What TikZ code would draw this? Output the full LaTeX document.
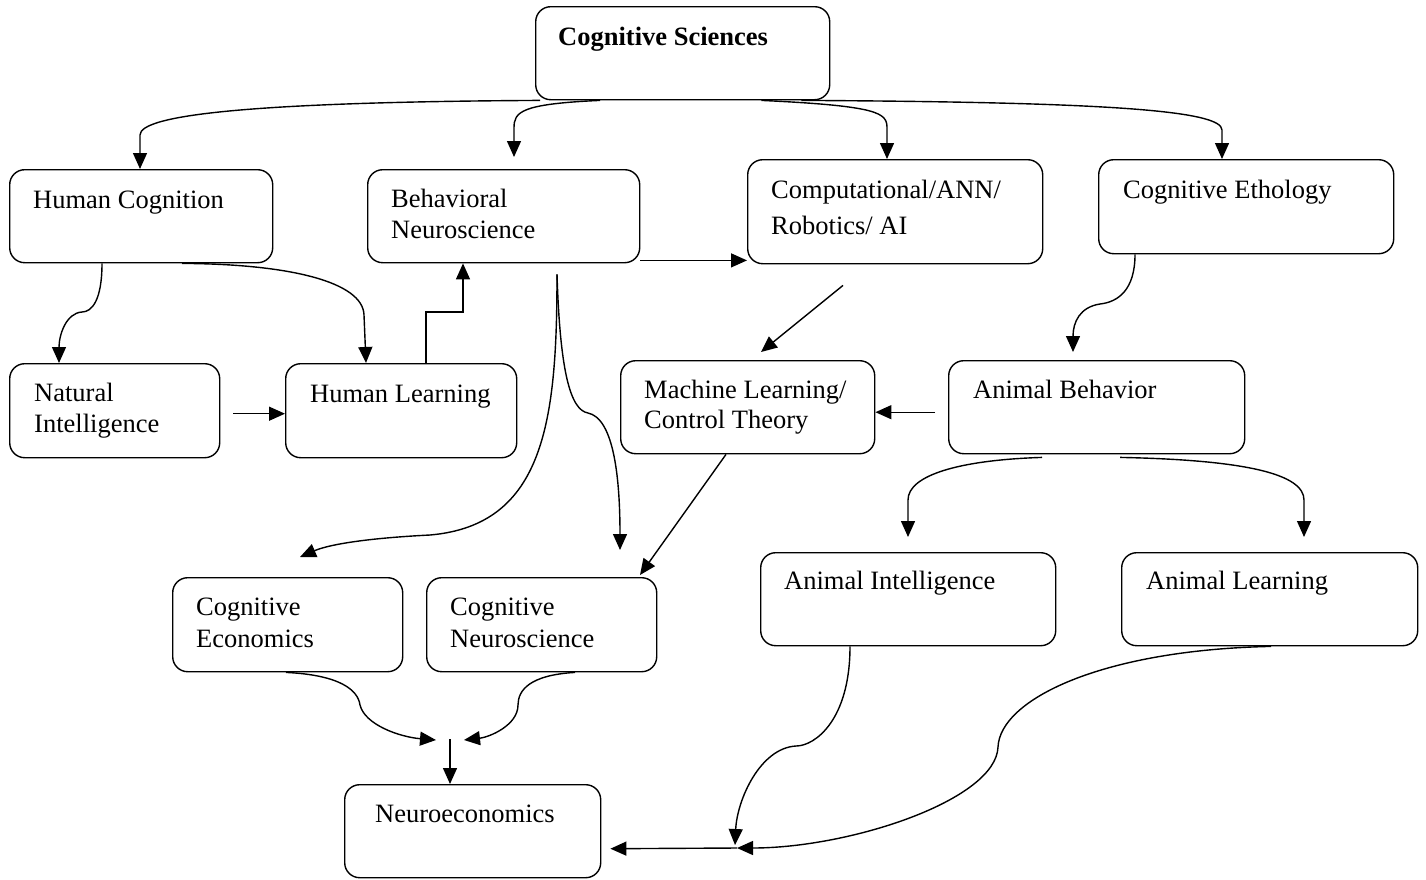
\documentclass[tikz,border=0pt]{standalone}
\usepackage{fontspec}
\setmainfont{Liberation Serif}
\usetikzlibrary{arrows.meta}
\newcommand\dfont{\fontsize{26.5}{31}\selectfont}
\begin{document}
\begin{tikzpicture}[x=1pt,y=-1pt,
 box/.style={draw, rounded corners=15pt, line width=1.4pt, inner sep=0pt, anchor=north west},
 txt/.style={anchor=base west, inner sep=0pt, font=\dfont},
 ln/.style={line width=1.4pt},
 arr/.style={ln, -{Triangle[length=16pt,width=14pt]}}]
\useasboundingbox (0,0) rectangle (1426,879);
\fill[white] (0,0) rectangle (1426,879);
% boxes
\node[box, minimum width=294pt, minimum height=93pt] (cs) at (535,6) {};
\node[box, minimum width=263pt, minimum height=93pt] (hc) at (9,169) {};
\node[box, minimum width=272pt, minimum height=93pt] (bn) at (367,169) {};
\node[box, minimum width=295pt, minimum height=104pt] (comp) at (747,159) {};
\node[box, minimum width=295pt, minimum height=94pt] (ceth) at (1098,159) {};
\node[box, minimum width=210pt, minimum height=94pt] (ni) at (9,363) {};
\node[box, minimum width=231pt, minimum height=94pt] (hl) at (285,363) {};
\node[box, minimum width=254pt, minimum height=93pt] (ml) at (620,360) {};
\node[box, minimum width=296pt, minimum height=93pt] (ab) at (948,360) {};
\node[box, minimum width=295pt, minimum height=93pt] (ai) at (760,552) {};
\node[box, minimum width=296pt, minimum height=93pt] (al) at (1121,552) {};
\node[box, minimum width=230pt, minimum height=94pt] (ceco) at (172,577) {};
\node[box, minimum width=230pt, minimum height=94pt] (cn) at (426,577) {};
\node[box, minimum width=256pt, minimum height=93pt] (ne) at (344,784) {};
% texts
\node[txt, font=\dfont\bfseries] (tcs) at (558,45) {Cognitive Sciences};
\node[txt] (thc) at (33,208) {Human Cognition};
\node[txt] (tbn1) at (391,207) {Behavioral};
\node[txt] (tbn2) at (391,238) {Neuroscience};
\node[txt] (tcomp1) at (771,198) {Computational/ANN/};
\node[txt] (tcomp2) at (771,234) {Robotics/ AI};
\node[txt] (tceth) at (1123,198) {Cognitive Ethology};
\node[txt] (tni1) at (34,401) {Natural};
\node[txt] (tni2) at (34,432) {Intelligence};
\node[txt] (thl) at (310,402) {Human Learning};
\node[txt] (tml1) at (644,398) {Machine Learning/};
\node[txt] (tml2) at (644,428) {Control Theory};
\node[txt] (tab) at (973,398) {Animal Behavior};
\node[txt] (tai) at (784,589) {Animal Intelligence};
\node[txt] (tal) at (1146,589) {Animal Learning};
\node[txt] (tceco1) at (196,615) {Cognitive};
\node[txt] (tceco2) at (196,647) {Economics};
\node[txt] (tcn1) at (450,615) {Cognitive};
\node[txt] (tcn2) at (450,647) {Neuroscience};
\node[txt] (tne) at (375,822) {Neuroeconomics};
% junction points
\coordinate (mL) at (436,740);
\coordinate (mR) at (464,740);
\coordinate (mT) at (450,739);
\coordinate (jn) at (737,848);
\coordinate (jt) at (735,845);
% connectors
\draw[arr] ([xshift=5pt]cs.south west) .. controls (250,102) and (140,115) .. (140,135) -- ([xshift=131pt]hc.north west);
\draw[arr, shorten >=12pt] ([xshift=65pt]cs.south west) .. controls (520,104) and (514,112) .. (514,128) -- ([xshift=147pt]bn.north west);
\draw[arr] ([xshift=-69pt]cs.south east) .. controls (880,106) and (887,113) .. (887,128) -- ([xshift=140pt]comp.north west);
\draw[arr] ([xshift=-29pt]cs.south east) .. controls (1100,102) and (1222,110) .. (1222,130) -- ([xshift=124pt]ceth.north west);
\draw[arr] ([xshift=93pt]hc.south west) .. controls (102,300) and (92,312) .. (82,312) .. controls (66,313) and (59,335) .. ([xshift=50pt]ni.north west);
\draw[arr] ([xshift=173pt]hc.south west) .. controls (290,264) and (363,282) .. (364,315) -- ([xshift=81pt]hl.north west);
\draw[arr] ([xshift=13pt,yshift=-3pt]ni.east) -- ([yshift=-3pt]hl.west);
\draw[arr] ([xshift=141pt]hl.north west) -- ++(0,-51) -- ++(37,0) -- ([xshift=96pt]bn.south west);
\draw[arr] ([yshift=3pt]bn.south east) -- ([yshift=4pt]comp.south west);
\draw[arr] ([xshift=96pt,yshift=-21pt]comp.south west) -- ([xshift=141pt,yshift=8pt]ml.north west);
\draw[arr] ([xshift=-13pt,yshift=-5pt]ab.west) -- ([yshift=-5pt]ml.east);
\draw[arr] ([xshift=106pt]ml.south west) -- ([xshift=214pt,yshift=2pt]cn.north west);
\draw[arr] ([xshift=190pt,yshift=-11pt]bn.south west) .. controls (557,420) and (545,525) .. (430,535) .. controls (370,538) and (330,544) .. ([xshift=128pt,yshift=20pt]ceco.north west);
\draw[arr] ([xshift=190pt,yshift=-11pt]bn.south west) .. controls (560,370) and (570,410) .. (588,413) .. controls (612,418) and (620,470) .. ([xshift=194pt,yshift=27pt]cn.north west);
\draw[arr] ([xshift=37pt]ceth.south west) .. controls (1135,290) and (1118,302) .. (1100,304) .. controls (1080,307) and (1073,322) .. ([xshift=125pt,yshift=8pt]ab.north west);
\draw[arr] ([xshift=94pt,yshift=-3pt]ab.south west) .. controls (960,460) and (908,475) .. (908,500) -- ([xshift=148pt,yshift=15pt]ai.north west);
\draw[arr] ([xshift=172pt,yshift=-3pt]ab.south west) .. controls (1250,460) and (1304,475) .. (1304,500) -- ([xshift=183pt,yshift=15pt]al.north west);
\draw[arr] ([xshift=114pt]ceco.south west) .. controls (340,675) and (358,690) .. (360,705) .. controls (365,725) and (400,737) .. (mL);
\draw[arr] ([xshift=149pt]cn.south west) .. controls (530,675) and (518,690) .. (518,705) .. controls (518,725) and (490,737) .. (mR);
\draw[arr] (mT) -- ([xshift=106pt]ne.north west);
\draw[arr] ([xshift=150pt]al.south west) .. controls (1100,650) and (1000,700) .. (998,747) .. controls (996,800) and (850,848) .. (jn);
\draw[arr] ([xshift=90pt]ai.south west) .. controls (850,720) and (815,746) .. (796,746) .. controls (760,748) and (737,800) .. (jt);
\draw[arr] (jn) -- ([xshift=9pt,yshift=-17.5pt]ne.east);
\end{tikzpicture}
\end{document}
